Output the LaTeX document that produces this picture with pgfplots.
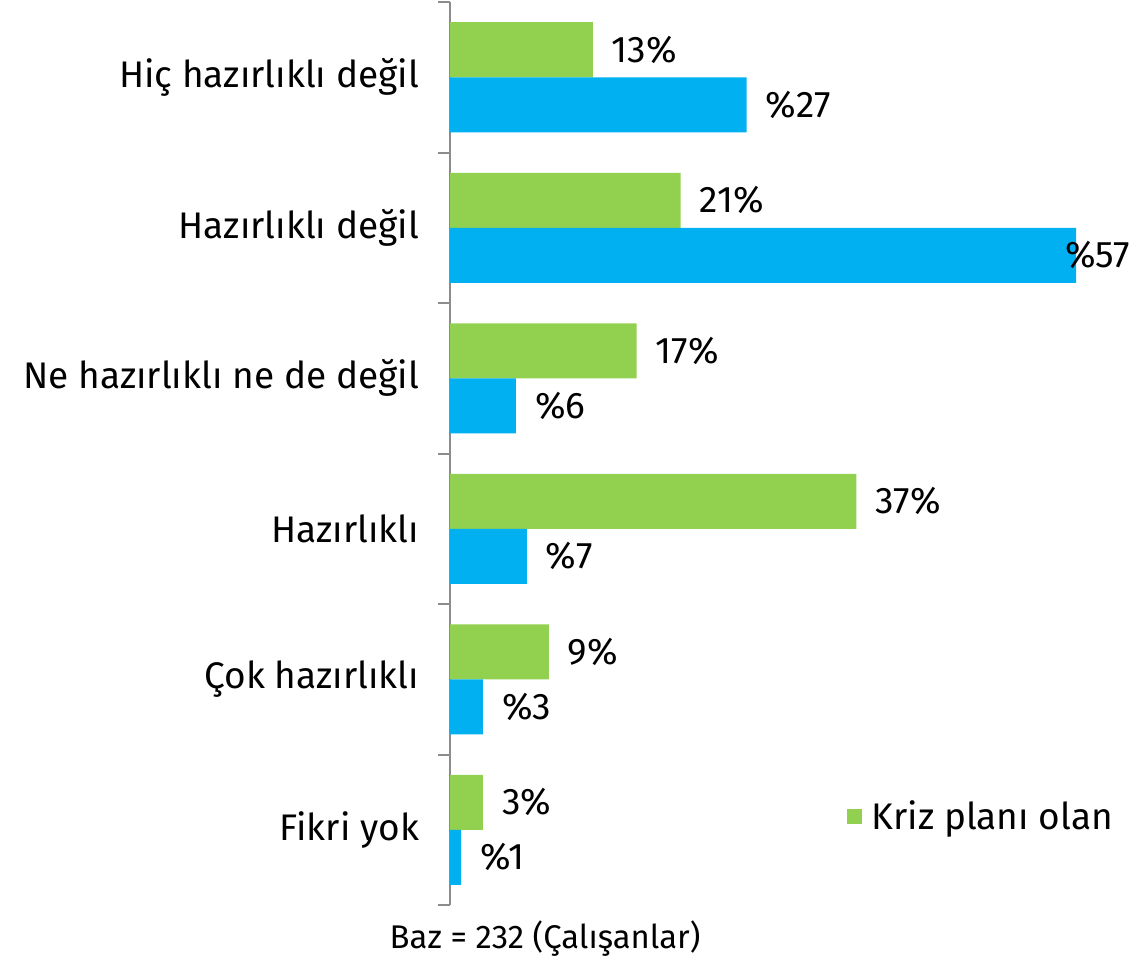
\documentclass[border=0pt]{standalone}
\usepackage{pgfplots}
\pgfplotsset{compat=1.18}
\usepackage{fontspec}
\setmainfont{Fira Sans}
\definecolor{cgreen}{HTML}{92D050}
\definecolor{cblue}{HTML}{00B0F0}
\definecolor{caxis}{HTML}{8C8C8C}
\begin{document}
\begin{tikzpicture}
\begin{axis}[
  name=ax,
  xbar,
  clip=false,
  x=5.49pt, y=75.25pt,
  xmin=0, xmax=62.1,
  ymin=-0.5, ymax=5.5,
  y dir=reverse,
  axis y line*=left,
  axis x line=none,
  y axis line style={draw=caxis, line width=1pt, -},
  ytick={0,1,2,3,4,5},
  yticklabels={Hiç hazırlıklı değil, Hazırlıklı değil, Ne hazırlıklı ne de değil, Hazırlıklı, Çok hazırlıklı, Fikri yok},
  minor ytick={-0.5,0.5,1.5,2.5,3.5,4.5,5.5},
  major tick length=0pt,
  minor tick length=6pt,
  tick align=outside,
  minor tick style={draw=caxis, line width=1pt},
  yticklabel style={font=\fontsize{18.5}{22}\selectfont, xshift=-12pt},
  bar width=27.5pt,
  nodes near coords style={font=\fontsize{18.5}{22}\selectfont, anchor=west, xshift=6pt},
  legend style={at={(0.572,0.0986)}, anchor=west, draw=none, fill=none,
    font=\fontsize{18.5}{22}\selectfont},
  legend image code/.code={\fill[cgreen] (0pt,-3.75pt) rectangle (7.5pt,3.75pt);},
]
\addplot[fill=cgreen, draw=none, bar shift=13.75pt,
  nodes near coords={\pgfmathprintnumber[assume math mode=true]{\pgfplotspointmeta}\%}]
  coordinates {(13,0) (21,1) (17,2) (37,3) (9,4) (3,5)};
\addlegendentry{\hspace{3pt}Kriz planı olan}
\addplot[fill=cblue, draw=none, bar shift=-13.75pt, forget plot,
  nodes near coords={\%\pgfmathprintnumber[assume math mode=true]{\pgfplotspointmeta}},
  coordinate style/.condition={x>50}{xshift=-15pt}]
  coordinates {(27,0) (57,1) (6,2) (7,3) (3,4) (1,5)};
\end{axis}
\node[font=\fontsize{16.4}{19}\selectfont] at ([xshift=47.5pt, yshift=-16.5pt]ax.south west) {Baz = 232 (Çalışanlar)};
\pgfresetboundingbox
\path ([xshift=-225pt, yshift=-26pt]ax.south west) rectangle ([yshift=1pt]ax.north east);
\end{tikzpicture}
\end{document}
